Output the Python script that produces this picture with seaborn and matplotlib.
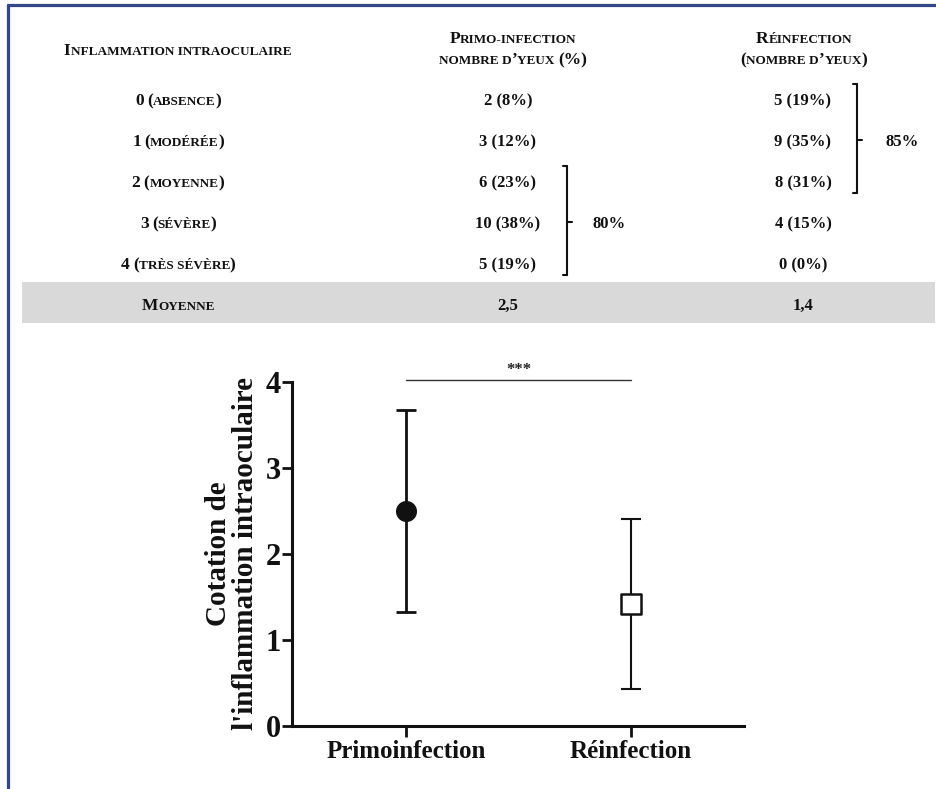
import matplotlib
matplotlib.use("Agg")
import matplotlib.pyplot as plt
import seaborn as sns
import pandas as pd
from matplotlib.lines import Line2D
from matplotlib.patches import Rectangle
from matplotlib import font_manager
from matplotlib.font_manager import FontProperties
from matplotlib.ft2font import FT2Font

# ---------------- data ----------------
niveaux = ["0 (absence)", "1 (modérée)", "2 (moyenne)", "3 (sévère)", "4 (très sévère)"]
primo_n = [2, 3, 6, 10, 5]
primo_pct = [8, 12, 23, 38, 19]
reinf_n = [5, 9, 8, 4, 0]
reinf_pct = [19, 35, 31, 15, 0]
moyenne_primo = "2,5"
moyenne_reinf = "1,4"
groupe_primo_pct = "80%"
groupe_reinf_pct = "85%"

groupes = ["Primoinfection", "Réinfection"]
moyennes = [2.5, 1.42]
ecarts = [1.18, 0.99]
y_ticks = [0, 1, 2, 3, 4]

# ---------------- style ----------------
sns.set_theme(style="ticks")
SERIF = ["Liberation Serif", "DejaVu Serif"]
plt.rcParams["font.family"] = SERIF

W, H = 937, 789
fig = plt.figure(figsize=(W / 100, H / 100), dpi=100)
fig.patch.set_facecolor("white")


def fx(px):
    return px / W


def fy(py):
    return 1 - py / H


renderer = fig.canvas.get_renderer()
_font_path = font_manager.findfont(FontProperties(family="Liberation Serif", weight="bold"))
_ft = FT2Font(_font_path)


def _raw_adv(s, sz):
    _ft.set_size(sz, 100)
    tot = 0.0
    for ch in s:
        g = _ft.load_char(ord(ch))
        tot += g.linearHoriAdvance
    return tot


# calibrate units against the renderer
_cal = "HNHNHNHNHNHNHNHNHNHN"
_t = fig.text(0, 0, _cal, fontsize=12, fontweight="bold", family=SERIF)
_ratio = _t.get_window_extent(renderer).width / _raw_adv(_cal, 12)
_t.remove()


def adv(s, sz):
    return _raw_adv(s, sz) * _ratio


def smallcaps(xc, ybase, s, big=12.5, small=9.5):
    """Draw text in small caps, centred at pixel xc, baseline at pixel ybase."""
    segs = []
    for ch in s:
        if ch.islower():
            t, sz = ch.upper(), small
        elif ch in " -":
            t, sz = ch, small
        else:
            t, sz = ch, big
        if segs and segs[-1][1] == sz:
            segs[-1] = (segs[-1][0] + t, sz)
        else:
            segs.append((t, sz))
    widths = [adv(t, sz) for t, sz in segs]
    x = xc - sum(widths) / 2
    for (t, sz), wdt in zip(segs, widths):
        if t.strip():
            fig.text(fx(x), fy(ybase), t, fontsize=sz, fontweight="bold", color="#111111",
                     va="baseline", ha="left", family=SERIF)
        x += wdt


# ---------------- border ----------------
fig.add_artist(Line2D([fx(8), fx(8)], [fy(5), fy(789)], color="#34468a", lw=2.3,
                      transform=fig.transFigure))
fig.add_artist(Line2D([fx(8), fx(937)], [fy(5), fy(5)], color="#34468a", lw=2.3,
                      transform=fig.transFigure))

# ---------------- table ----------------
fig.add_artist(Rectangle((fx(22), fy(323)), fx(935) - fx(22), fy(282) - fy(323),
                         transform=fig.transFigure, facecolor="#d9d9d9", edgecolor="none"))

smallcaps(178, 55, "Inflammation intraoculaire")
smallcaps(513, 43, "Primo-infection")
smallcaps(513, 64, "nombre d’yeux (%)")
smallcaps(804, 43, "Réinfection")
smallcaps(804, 64, "(nombre d’yeux)")

row_base = [105, 146, 187, 228, 269]
for i, lab in enumerate(niveaux):
    smallcaps(178, row_base[i], lab)
    fig.text(fx(508), fy(row_base[i]), f"{primo_n[i]} ({primo_pct[i]}%)", fontsize=12,
             fontweight="bold", ha="center", va="baseline", color="#111111")
    fig.text(fx(803), fy(row_base[i]), f"{reinf_n[i]} ({reinf_pct[i]}%)", fontsize=12,
             fontweight="bold", ha="center", va="baseline", color="#111111")

smallcaps(178, 310, "Moyenne")
fig.text(fx(508), fy(310), moyenne_primo, fontsize=12, fontweight="bold",
         ha="center", va="baseline", color="#111111")
fig.text(fx(803), fy(310), moyenne_reinf, fontsize=12, fontweight="bold",
         ha="center", va="baseline", color="#111111")


def bracket(x, y0, y1, ymid):
    kw = dict(color="#111111", lw=1.5, transform=fig.transFigure)
    fig.add_artist(Line2D([fx(x), fx(x)], [fy(y0), fy(y1)], **kw))
    fig.add_artist(Line2D([fx(x - 4), fx(x)], [fy(y0), fy(y0)], **kw))
    fig.add_artist(Line2D([fx(x - 4), fx(x)], [fy(y1), fy(y1)], **kw))
    fig.add_artist(Line2D([fx(x), fx(x + 5)], [fy(ymid), fy(ymid)], **kw))


bracket(567, 166, 275, 222)
fig.text(fx(609), fy(228), groupe_primo_pct, fontsize=12, fontweight="bold",
         ha="center", va="baseline", color="#111111")
bracket(857, 84, 193, 140)
fig.text(fx(902), fy(146), groupe_reinf_pct, fontsize=12, fontweight="bold",
         ha="center", va="baseline", color="#111111")

# ---------------- plot ----------------
ax = fig.add_axes([fx(292), fy(726), fx(744) - fx(292), fy(382) - fy(726)])
ax.set_facecolor("white")
df = pd.DataFrame({"groupe": groupes, "moyenne": moyennes, "ecart": ecarts})

lws = [2.0, 1.5]
for i, row in df.iterrows():
    ax.errorbar(x=[row["groupe"]], y=[row["moyenne"]], yerr=[row["ecart"]], fmt="none",
                ecolor="#111111", elinewidth=lws[i], capsize=7.5, capthick=lws[i], zorder=2)

sns.scatterplot(data=df.iloc[[0]], x="groupe", y="moyenne", marker="o", s=200,
                color="#111111", edgecolor="#111111", linewidth=1, ax=ax, zorder=3)
sns.scatterplot(data=df.iloc[[1]], x="groupe", y="moyenne", marker="s", s=210,
                facecolor="white", edgecolor="#111111", linewidth=1.8, ax=ax, zorder=3)

ax.set_xlim(-0.507, 1.502)
ax.set_ylim(0, 4)
ax.set_yticks(y_ticks)
ax.set_yticklabels([str(v) for v in y_ticks])
ax.set_xlabel("")
ax.set_ylabel("")
for side in ["top", "right"]:
    ax.spines[side].set_visible(False)
for side in ["left", "bottom"]:
    ax.spines[side].set_linewidth(2.2)
    ax.spines[side].set_color("#111111")
ax.tick_params(axis="y", direction="out", length=7, width=2.0, pad=1,
               labelsize=22, colors="#111111")
ax.tick_params(axis="x", direction="out", length=8, width=2.0, pad=2,
               labelsize=18, colors="#111111")
for lab in ax.get_yticklabels() + ax.get_xticklabels():
    lab.set_fontweight("bold")
    lab.set_family(SERIF)

# significance
ax.plot([0, 1], [4.02, 4.02], color="#333333", lw=1.0, clip_on=False)
ax.text(0.5, 4.05, "***", ha="center", va="bottom", fontsize=12, fontweight="bold",
        color="#222222")

fig.text(fx(232), fy(554), "Cotation de\nl'inflammation intraoculaire", rotation=90,
         ha="center", va="center", fontsize=21, fontweight="bold", linespacing=1.0,
         multialignment="center", color="#111111")

fig.savefig("out.png", dpi=100, facecolor="white")
